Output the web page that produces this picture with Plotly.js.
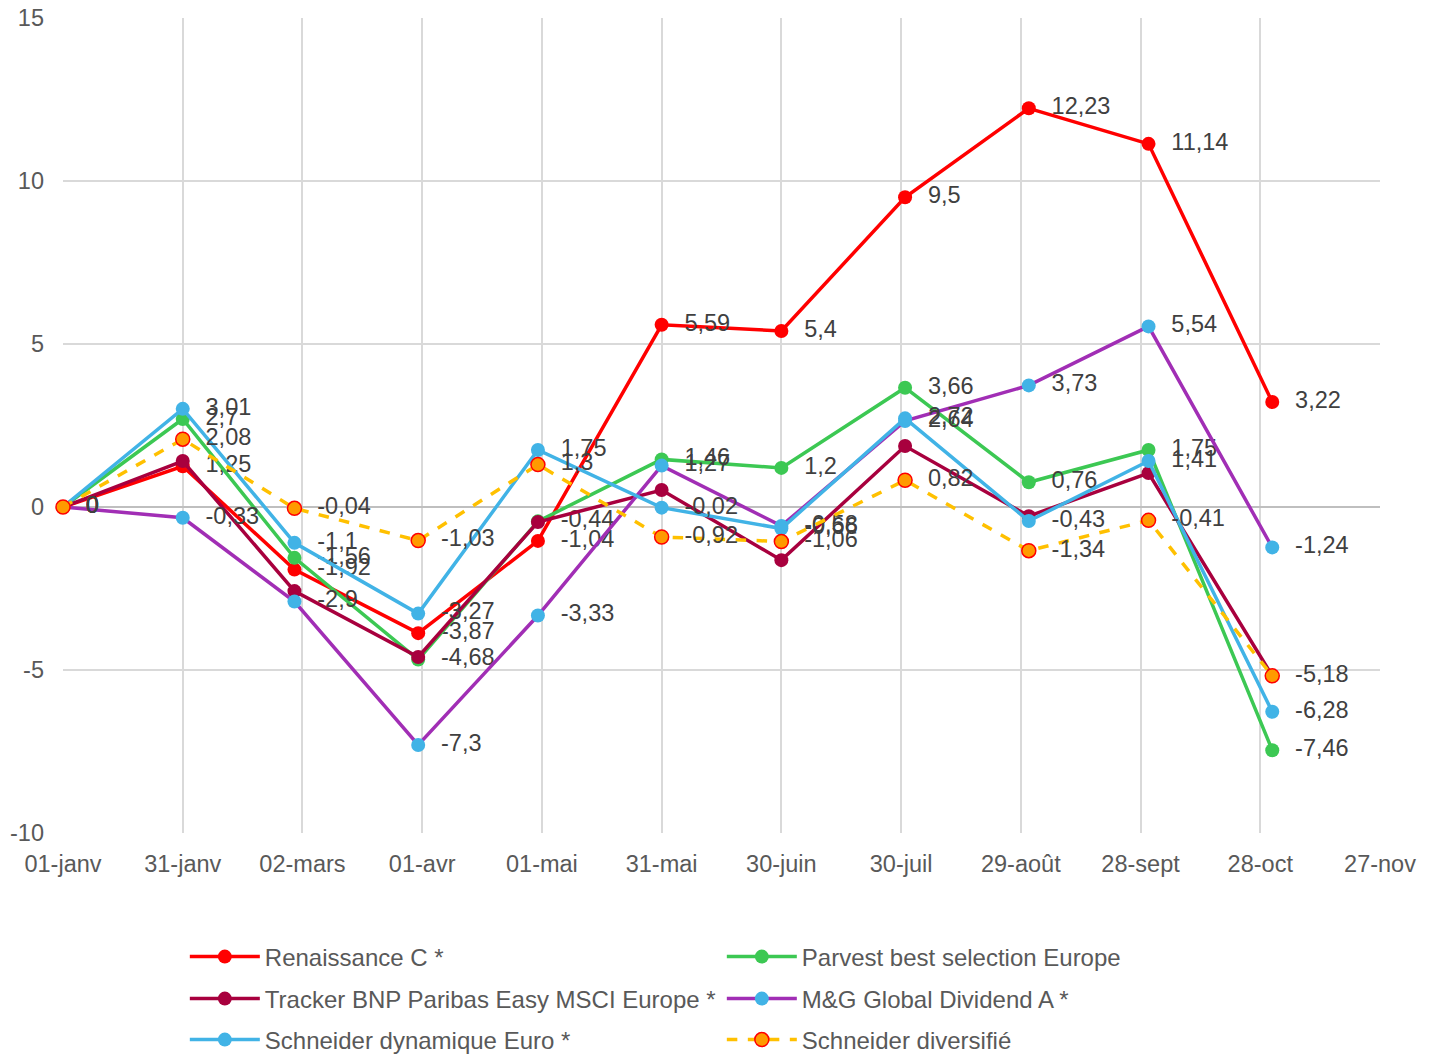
<!DOCTYPE html>
<html>
<head>
<meta charset="utf-8">
<script src="https://cdn.plot.ly/plotly-3.0.1.min.js"></script>
<style>html,body{margin:0;padding:0;background:#fff;}#chart{width:1434px;height:1054px;}</style>
</head>
<body>
<div id="chart"></div>
<script>
const dates = ['2018-01-01','2018-01-31','2018-02-28','2018-03-31','2018-04-30','2018-05-31','2018-06-30','2018-07-31','2018-08-31','2018-09-30','2018-10-31'];
const tickDates = ['2018-01-01','2018-01-31','2018-03-02','2018-04-01','2018-05-01','2018-05-31','2018-06-30','2018-07-30','2018-08-29','2018-09-28','2018-10-28','2018-11-27'];
const tickLabels = ['01-janv','31-janv','02-mars','01-avr','01-mai','31-mai','30-juin','30-juil','29-août','28-sept','28-oct','27-nov'];
const yTickVals = [-10, -5, 0, 5, 10, 15];
const yTickLabels = ['-10', '-5', '0', '5', '10', '15'];

const renaissance = [0, 1.25, -1.92, -3.87, -1.04, 5.59, 5.4, 9.5, 12.23, 11.14, 3.22];
const parvest = [0, 2.7, -1.56, -4.68, -0.44, 1.46, 1.2, 3.66, 0.76, 1.75, -7.46];
const tracker = [0, 1.41, -2.58, -4.6, -0.46, 0.52, -1.63, 1.87, -0.28, 1.04, -5.18];
const mg = [0, -0.33, -2.9, -7.3, -3.33, 1.27, -0.58, 2.64, 3.73, 5.54, -1.24];
const schneiderDyn = [0, 3.01, -1.1, -3.27, 1.75, -0.02, -0.66, 2.72, -0.43, 1.41, -6.28];
const schneiderDiv = [0, 2.08, -0.04, -1.03, 1.3, -0.92, -1.06, 0.82, -1.34, -0.41, -5.18];

const names = ['Renaissance C *','Parvest best selection Europe','Tracker BNP Paribas Easy MSCI Europe *','M&G Global Dividend A *','Schneider dynamique Euro *','Schneider diversifié'];

const FONT = 'Liberation Sans, Arial, sans-serif';
function fmt(arr){ return arr.map(v => '\u00A0\u00A0' + String(v).replace('.', ',')); }
const labelFont = {family: FONT, size: 23.5, color: '#404040'};

function mk(name, ys, lineColor, markerColor, legendId, opts){
  opts = opts || {};
  return {
    x: dates, y: ys, name: name, type: 'scatter',
    legend: legendId,
    mode: opts.noText ? 'lines+markers' : 'lines+markers+text',
    text: opts.noText ? undefined : fmt(ys),
    textposition: 'middle right',
    textfont: labelFont,
    cliponaxis: false,
    line: {color: lineColor, width: 3.5, dash: opts.dash || 'solid'},
    marker: {color: markerColor, size: 14, line: {color: opts.markerLine || markerColor, width: opts.markerLineWidth || 0}},
    hoverinfo: 'x+y+name'
  };
}

const traces = [
  mk(names[0], renaissance, '#FF0000', '#FF0000', 'legend'),
  mk(names[1], parvest, '#3CC853', '#3CC853', 'legend'),
  mk(names[2], tracker, '#A8003E', '#A8003E', 'legend2', {noText: true}),
  mk(names[3], mg, '#A12EB5', '#41B3E6', 'legend2'),
  mk(names[4], schneiderDyn, '#41B3E6', '#41B3E6', 'legend3'),
  mk(names[5], schneiderDiv, '#FFC000', '#FF9A00', 'legend3', {dash: 'dash', markerLine: '#FF0000', markerLineWidth: 1.5})
];

const tickFont = {family: FONT, size: 23.5, color: '#595959'};

function legendRow(yPix){
  return {
    orientation: 'h',
    xref: 'paper', x: 0.0925, xanchor: 'left',
    yref: 'container', y: (1054 - yPix) / 1054, yanchor: 'middle',
    entrywidth: 452, entrywidthmode: 'pixels',
    font: {family: FONT, size: 24, color: '#595959'},
    itemwidth: 70,
    bgcolor: 'rgba(0,0,0,0)'
  };
}

const layout = {
  width: 1434, height: 1054,
  margin: {l: 63, r: 54, t: 18, b: 221},
  paper_bgcolor: '#ffffff', plot_bgcolor: '#ffffff',
  showlegend: true,
  xaxis: {
    type: 'date',
    range: ['2018-01-01', '2018-11-27'],
    tickmode: 'array', tickvals: tickDates, ticktext: tickLabels,
    tickfont: tickFont,
    ticklabelstandoff: 14,
    showgrid: true, gridcolor: '#D9D9D9', gridwidth: 2,
    showline: false, zeroline: false,
    ticks: ''
  },
  yaxis: {
    range: [-10, 15],
    tickmode: 'array', tickvals: yTickVals, ticktext: yTickLabels,
    tickfont: tickFont,
    ticklabelstandoff: 18,
    showgrid: true, gridcolor: '#D9D9D9', gridwidth: 2,
    zeroline: true, zerolinecolor: '#BFBFBF', zerolinewidth: 2,
    showline: false, ticks: ''
  },
  legend: legendRow(957),
  legend2: legendRow(999),
  legend3: legendRow(1040)
};

Plotly.newPlot('chart', traces, layout, {displayModeBar: false, staticPlot: true});
</script>
</body>
</html>
